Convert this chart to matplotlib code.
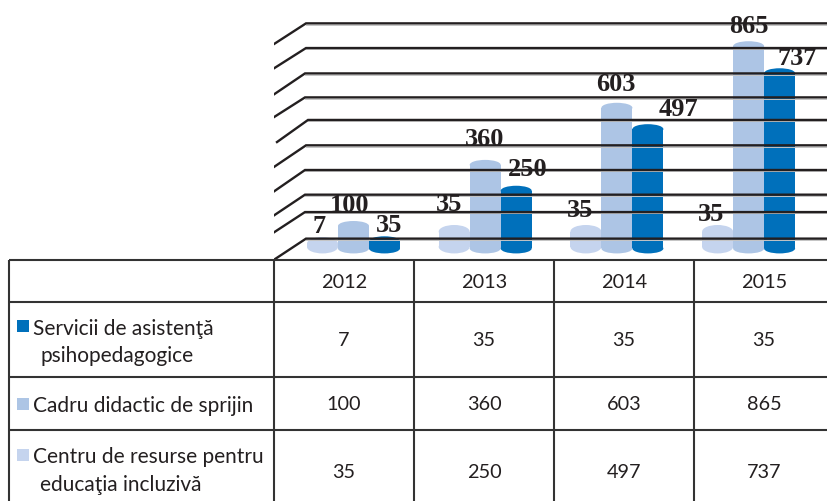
#!/usr/bin/env python3
# -*- coding: utf-8 -*-
import matplotlib
matplotlib.use('Agg')
import matplotlib.pyplot as plt
from matplotlib.patches import Ellipse, Rectangle

years = ['2012', '2013', '2014', '2015']
servicii = [7, 35, 35, 35]
cadru = [100, 360, 603, 865]
centru = [35, 250, 497, 737]
# some cylinders are drawn a little off their labels in the original
servicii_drawn = [32, 83, 83, 83]
centru_drawn = [35, 250, 512, 750]

row_names = [['Servicii de asistenţă', 'psihopedagogice'],
             ['Cadru didactic de sprijin'],
             ['Centru de resurse pentru', 'educaţia incluzivă']]
rows = [servicii, cadru, centru]

# back wall lines, in value units, with the pixel x where each slanted end starts
grid_vals = [941, 836, 728, 626, 530, 422, 317, 212, 138, 25]
slant_vals = [853, 747, 636, 534, 436, 330, 223, 121, 49, -62]
slant_left = [274, 273, 273, 271, 277, 274, 273, 273, 273, 275]
slant_right = [306, 306, 305, 305, 308, 306, 305, 305, 305, 306]

DARK = '#0070bb'
MID = '#adc5e5'
LIGHT = '#c5d4ee'
INK = '#231f20'

W, H = 827, 501
PX_X = 131.7   # px per category
PX_Y = 0.235   # px per value unit
X0 = 353.5     # px of the first group
Y0 = 244.5     # px of value 0


def cat_x(px):
    return (px - X0) / PX_X


fig = plt.figure(figsize=(W / 100, H / 100), dpi=100)

# ---- table in pixel coordinates
tb = fig.add_axes([0, 0, 1, 1])
tb.set_xlim(0, W)
tb.set_ylim(H, 0)
tb.axis('off')

for y in [260, 301.5, 377, 430]:
    tb.plot([9, W], [y, y], color='#333333', lw=1.5, solid_capstyle='butt')
for x in [9, 274, 414, 554, 694]:
    tb.plot([x, x], [260, H], color='#333333', lw=1.5, solid_capstyle='butt')

col_x = [344, 484, 624, 764]
row_y = [341, 405, 472]
for x, yr in zip(col_x, years):
    tb.text(x, 283, yr, ha='center', va='center', family='Lato', size=14.3, color=INK)
for y, vals in zip(row_y, rows):
    for x, v in zip(col_x, vals):
        tb.text(x, y, str(v), ha='center', va='center', family='Lato', size=14.3, color=INK)

square_y = [320, 398, 449]
line_y = [[329, 356], [406], [457, 485]]
for names, sy, ys, col in zip(row_names, square_y, line_y, [DARK, MID, LIGHT]):
    tb.add_patch(Rectangle((17, sy), 12, 12, color=col, lw=0))
    for i, (name, y) in enumerate(zip(names, ys)):
        tb.text(33 if i == 0 else 40, y, name, ha='left', va='center', family='Lato',
                size=15, color=INK)

# ---- cylinders
ax = fig.add_axes([274 / W, (H - 259) / H, (W - 274) / W, 259 / H])
ax.patch.set_alpha(0)
ax.set_xlim(cat_x(274), cat_x(W))
ax.set_ylim((Y0 - 259) / PX_Y, Y0 / PX_Y)
ax.axis('off')

bar_w = 31 / PX_X
bottom = -38   # value at the lowest point of every cylinder


def cylinder(x, top, color, ry):
    low = bottom + ry
    high = max(top - ry, low)
    ax.add_patch(Rectangle((x - bar_w / 2, low), bar_w, high - low, color=color, lw=0, zorder=2))
    ax.add_patch(Ellipse((x, low), bar_w, 2 * ry, color=color, lw=0, zorder=2))
    ax.add_patch(Ellipse((x, high), bar_w, 2 * ry, color=color, lw=0, zorder=2))


label_off = {
    0: [(-3.5, 10), (-5.5, 20), (-6, 14), (-7, 10)],
    1: [(-4, 15), (-1, 20), (-1, 18), (0, 15)],
    2: [(4.5, 11), (11, 16), (31, 15), (18, 10)],
}
heights = [servicii_drawn, cadru, centru_drawn]
radii = [28, 21, 21]
for s, (h, vals, col, ry) in enumerate(zip(heights, rows, [LIGHT, MID, DARK], radii)):
    for i, (top, v) in enumerate(zip(h, vals)):
        x = i + (s - 1) * bar_w
        cylinder(x, top, col, ry)
        ax.annotate(str(v), (x, top), xytext=label_off[s][i], textcoords='offset pixels',
                    ha='center', va='center', family='Liberation Serif', weight='bold',
                    size=19, color=INK, zorder=4)

# ---- back wall lines go over the bars
for g, sv, xl, xr in zip(grid_vals, slant_vals, slant_left, slant_right):
    ax.plot([cat_x(xr), cat_x(W)], [g - 6, g - 6], color='#c4c4c4', lw=0.7, zorder=3)
    ax.plot([cat_x(xl), cat_x(xr), cat_x(W)], [sv, g, g], color=INK, lw=1.7, zorder=3,
            solid_joinstyle='miter')

fig.savefig('out.png', dpi=100)
plt.close()
